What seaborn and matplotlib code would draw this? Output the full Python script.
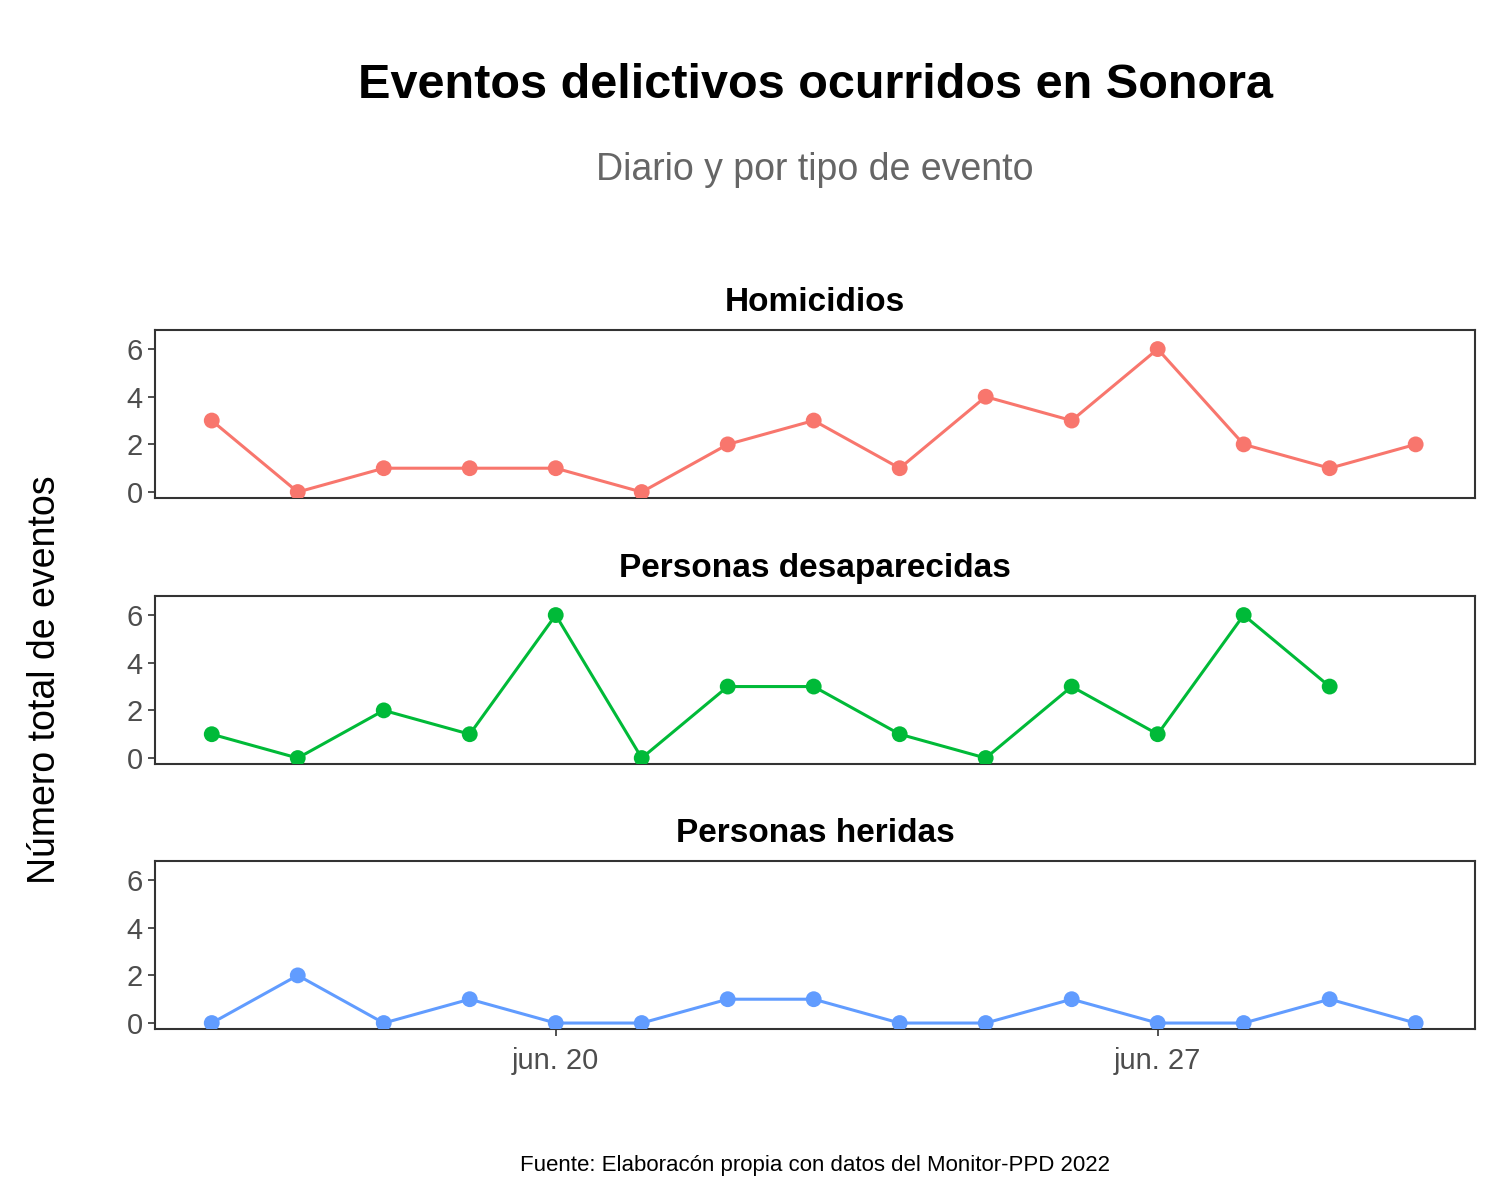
import pandas as pd
import numpy as np
import matplotlib
matplotlib.use("Agg")
import matplotlib.pyplot as plt
import seaborn as sns

sns.set_style("white")
plt.rcParams['font.family'] = ['Liberation Sans', 'DejaVu Sans']
plt.rcParams['text.color'] = 'black'

fechas = pd.date_range("2022-06-16", "2022-06-30", freq="D")
homicidios = [3, 0, 1, 1, 1, 0, 2, 3, 1, 4, 3, 6, 2, 1, 2]
desaparecidas = [1, 0, 2, 1, 6, 0, 3, 3, 1, 0, 3, 1, 6, 3]
heridas = [0, 2, 0, 1, 0, 0, 1, 1, 0, 0, 1, 0, 0, 1, 0]

paneles = [
    ("Homicidios", homicidios, "#F8766D"),
    ("Personas desaparecidas", desaparecidas, "#00BA38"),
    ("Personas heridas", heridas, "#619CFF"),
]

fig = plt.figure(figsize=(15, 12), dpi=100)
W, H = 1500, 1200
tops = [330, 596, 861]
ph = 168
x0, x1 = 155, 1475

xmin = pd.Timestamp("2022-06-16") - pd.Timedelta(hours=0.66 * 24)
xmax = pd.Timestamp("2022-06-30") + pd.Timedelta(hours=0.69 * 24)
ticks = [pd.Timestamp("2022-06-20"), pd.Timestamp("2022-06-27")]

for i, (nombre, vals, color) in enumerate(paneles):
    ax = fig.add_axes([x0 / W, 1 - (tops[i] + ph) / H, (x1 - x0) / W, ph / H])
    df = pd.DataFrame({"fecha": fechas[:len(vals)], "n": vals})
    sns.lineplot(data=df, x="fecha", y="n", color=color, lw=2.2, ax=ax)
    sns.scatterplot(data=df, x="fecha", y="n", color=color, s=130,
                    edgecolor="none", ax=ax, zorder=3)
    ax.set_xlim(xmin, xmax)
    ax.set_ylim(-0.25, 6.8)
    ax.set_yticks([0, 2, 4, 6])
    ax.set_xticks(ticks)
    if i == 2:
        ax.set_xticklabels(["jun. 20", "jun. 27"])
    else:
        ax.set_xticklabels([])
        ax.tick_params(axis="x", length=0)
    ax.set_xlabel("")
    ax.set_ylabel("")
    ax.set_title(nombre, fontsize=24, fontweight="bold", pad=14, color="black")
    ax.tick_params(axis="both", labelsize=21, labelcolor="#4d4d4d",
                   length=5, width=1.2, direction="out", color="#333333",
                   pad=4, left=True, bottom=(i == 2))
    ax.tick_params(axis="x", pad=8)
    for s in ax.spines.values():
        s.set_color("#333333")
        s.set_linewidth(1.5)

fig.text(815 / W, 1 - 85 / H, "Eventos delictivos ocurridos en Sonora",
         ha="center", va="center", fontsize=35, fontweight="bold")
fig.text(815 / W, 1 - 170 / H, "Diario y por tipo de evento",
         ha="center", va="center", fontsize=27, color="#666666")
fig.text(45 / W, 1 - 680 / H, "Número total de eventos", rotation=90,
         ha="center", va="center", fontsize=27)
fig.text(815 / W, 1 - 1165 / H, "Fuente: Elaboracón propia con datos del Monitor-PPD 2022",
         ha="center", va="center", fontsize=16)

fig.savefig("out.png", dpi=100)
